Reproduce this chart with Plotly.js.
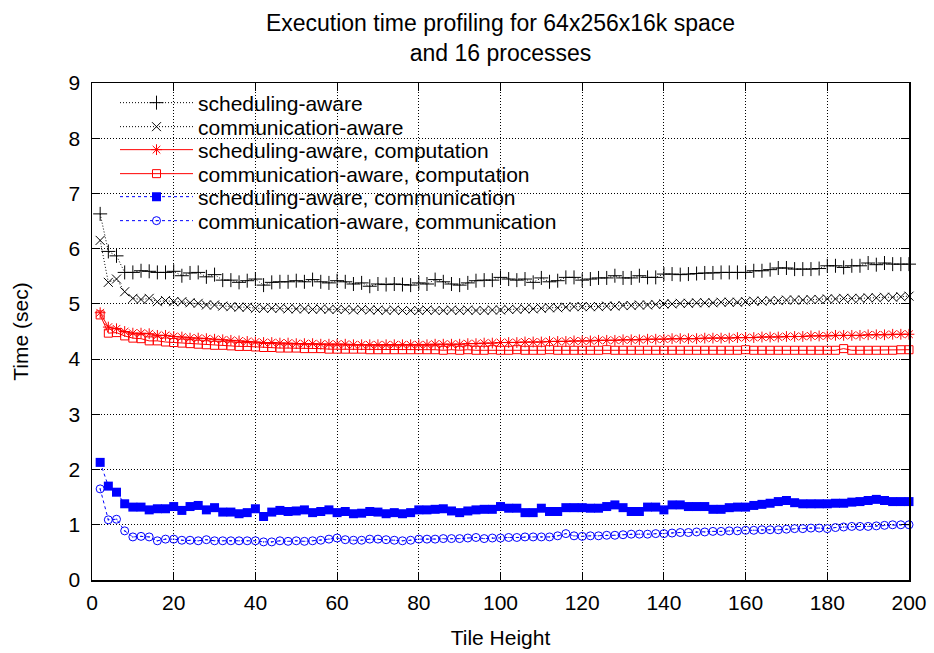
<!DOCTYPE html>
<html><head><meta charset="utf-8">
<script src="https://cdn.plot.ly/plotly-3.0.1.min.js"></script>
<style>body{margin:0;background:#fff}</style>
</head><body><div id="chart" style="width:934px;height:653px"></div>
<script>
const tileHeight = [2,4,6,8,10,12,14,16,18,20,22,24,26,28,30,32,34,36,38,40,42,44,46,48,50,52,54,56,58,60,62,64,66,68,70,72,74,76,78,80,82,84,86,88,90,92,94,96,98,100,102,104,106,108,110,112,114,116,118,120,122,124,126,128,130,132,134,136,138,140,142,144,146,148,150,152,154,156,158,160,162,164,166,168,170,172,174,176,178,180,182,184,186,188,190,192,194,196,198,200];

const schedTotal = [6.63,5.95,5.87,5.57,5.57,5.60,5.59,5.57,5.57,5.59,
5.51,5.56,5.57,5.49,5.53,5.43,5.43,5.39,5.42,5.45,
5.34,5.39,5.40,5.40,5.42,5.40,5.44,5.40,5.38,5.42,
5.40,5.36,5.38,5.32,5.36,5.35,5.36,5.35,5.34,5.38,
5.36,5.44,5.40,5.36,5.34,5.38,5.42,5.43,5.43,5.48,
5.45,5.43,5.45,5.39,5.47,5.40,5.42,5.48,5.48,5.43,
5.45,5.47,5.47,5.51,5.47,5.47,5.51,5.48,5.48,5.54,
5.54,5.53,5.54,5.55,5.56,5.56,5.57,5.57,5.57,5.57,
5.60,5.60,5.62,5.65,5.65,5.63,5.63,5.63,5.64,5.69,
5.69,5.66,5.69,5.69,5.74,5.71,5.74,5.72,5.72,5.72];

const commTotal = [6.15,5.39,5.45,5.22,5.10,5.08,5.10,5.04,5.06,5.04,
5.04,5.02,5.01,4.98,4.98,4.96,4.95,4.94,4.94,4.92,
4.92,4.92,4.92,4.91,4.91,4.91,4.90,4.91,4.90,4.90,
4.90,4.89,4.90,4.89,4.89,4.88,4.89,4.88,4.88,4.88,
4.89,4.88,4.88,4.89,4.88,4.89,4.88,4.88,4.89,4.89,
4.90,4.90,4.91,4.91,4.92,4.93,4.93,4.94,4.95,4.95,
4.95,4.95,4.96,4.96,4.97,4.97,4.98,4.98,4.99,5.00,
5.00,5.01,5.01,5.02,5.02,5.02,5.03,5.03,5.03,5.04,
5.05,5.05,5.06,5.06,5.07,5.07,5.07,5.08,5.08,5.09,
5.09,5.10,5.10,5.10,5.11,5.11,5.12,5.12,5.13,5.14];

const schedComp = [4.84,4.58,4.55,4.50,4.47,4.47,4.46,4.43,4.43,4.41,
4.40,4.38,4.38,4.37,4.36,4.35,4.34,4.33,4.32,4.31,
4.30,4.30,4.29,4.29,4.28,4.28,4.28,4.27,4.27,4.27,
4.27,4.26,4.26,4.26,4.26,4.26,4.26,4.26,4.26,4.26,
4.26,4.27,4.27,4.27,4.27,4.28,4.28,4.29,4.29,4.30,
4.30,4.30,4.31,4.31,4.31,4.32,4.32,4.32,4.33,4.33,
4.33,4.34,4.34,4.34,4.35,4.35,4.35,4.36,4.36,4.36,
4.37,4.37,4.37,4.37,4.38,4.38,4.38,4.38,4.39,4.39,
4.39,4.40,4.40,4.40,4.41,4.41,4.41,4.42,4.42,4.42,
4.43,4.43,4.43,4.43,4.44,4.44,4.44,4.45,4.45,4.45];

const commComp = [4.80,4.47,4.48,4.42,4.38,4.37,4.33,4.33,4.31,4.30,
4.29,4.28,4.27,4.26,4.25,4.25,4.24,4.23,4.23,4.22,
4.21,4.21,4.20,4.20,4.20,4.19,4.19,4.19,4.18,4.18,
4.18,4.18,4.18,4.17,4.17,4.17,4.17,4.17,4.17,4.17,
4.17,4.17,4.16,4.17,4.16,4.17,4.16,4.16,4.17,4.16,
4.16,4.17,4.16,4.16,4.16,4.17,4.16,4.16,4.16,4.16,
4.16,4.16,4.17,4.16,4.16,4.16,4.16,4.16,4.16,4.16,
4.16,4.16,4.16,4.16,4.16,4.16,4.16,4.16,4.16,4.17,
4.16,4.16,4.16,4.16,4.16,4.16,4.16,4.16,4.16,4.16,
4.16,4.19,4.16,4.16,4.16,4.16,4.16,4.16,4.17,4.17];

const schedComm = [2.13,1.70,1.59,1.38,1.32,1.32,1.27,1.29,1.29,1.33,
1.26,1.33,1.35,1.27,1.31,1.23,1.23,1.20,1.22,1.29,
1.15,1.23,1.26,1.24,1.25,1.27,1.22,1.24,1.27,1.22,
1.24,1.20,1.21,1.24,1.23,1.20,1.22,1.20,1.22,1.27,
1.27,1.28,1.29,1.25,1.22,1.25,1.27,1.28,1.28,1.33,
1.30,1.30,1.22,1.22,1.30,1.24,1.24,1.31,1.31,1.31,
1.30,1.30,1.33,1.36,1.31,1.24,1.24,1.32,1.32,1.27,
1.36,1.36,1.33,1.33,1.33,1.28,1.28,1.31,1.32,1.32,
1.35,1.37,1.39,1.42,1.44,1.40,1.38,1.38,1.38,1.38,
1.39,1.39,1.41,1.42,1.44,1.46,1.44,1.42,1.42,1.42];

const commComm = [1.65,1.09,1.10,0.89,0.78,0.79,0.78,0.71,0.74,0.74,
0.72,0.72,0.71,0.73,0.71,0.71,0.71,0.71,0.71,0.71,
0.69,0.69,0.71,0.70,0.71,0.70,0.71,0.72,0.74,0.76,
0.73,0.72,0.72,0.74,0.74,0.73,0.72,0.71,0.72,0.74,
0.74,0.74,0.75,0.75,0.75,0.76,0.77,0.75,0.76,0.76,
0.77,0.77,0.78,0.78,0.78,0.78,0.80,0.84,0.80,0.79,
0.80,0.80,0.81,0.81,0.82,0.83,0.83,0.83,0.84,0.84,
0.85,0.86,0.86,0.87,0.87,0.88,0.88,0.89,0.89,0.90,
0.90,0.91,0.91,0.91,0.92,0.93,0.93,0.94,0.94,0.93,
0.95,0.96,0.97,0.97,0.97,0.98,0.99,1.00,1.00,1.00];

const seriesNames = ['scheduling-aware','communication-aware','scheduling-aware, computation','communication-aware, computation','scheduling-aware, communication','communication-aware, communication'];
const xTickVals = [0,20,40,60,80,100,120,140,160,180,200];
const yTickVals = [0,1,2,3,4,5,6,7,8,9];

const FONT = 'Liberation Sans, Arial, Helvetica, sans-serif';
const W = 934, H = 653, L = 92, R = 25, T = 83, B = 73;
const pw = W - L - R, ph = H - T - B;
const px2x = p => (p - L) / pw;
const px2y = p => (H - B - p) / ph;

const styles = [
  {line:{color:'#000',width:1,dash:'1px,2px'}, marker:{symbol:'cross-thin-open',size:10,color:'#000',line:{color:'#000',width:1}}},
  {line:{color:'#000',width:1,dash:'1px,2px'}, marker:{symbol:'x-thin-open',size:9,color:'#000',line:{color:'#000',width:1}}},
  {line:{color:'#ff0000',width:1}, marker:{symbol:'asterisk-open',size:9,color:'#ff0000',line:{color:'#ff0000',width:1}}},
  {line:{color:'#ff0000',width:1}, marker:{symbol:'square-open',size:8,color:'#ff0000',line:{color:'#ff0000',width:1}}},
  {line:{color:'#0000ff',width:1,dash:'3px,3px'}, marker:{symbol:'square',size:9,color:'#0000ff',line:{width:0}}},
  {line:{color:'#0000ff',width:1,dash:'3px,3px'}, marker:{symbol:'circle-open-dot',size:8,color:'#0000ff',line:{color:'#0000ff',width:1}}}
];
const ys = [schedTotal, commTotal, schedComp, commComp, schedComm, commComm];
const legendIds = ['legend','legend2','legend3','legend4','legend5','legend6'];
const rowCenters = [103,127,150,174,197,221];

const data = ys.map((y,i) => Object.assign({
  type:'scatter', mode:'lines+markers', x: tileHeight, y: y, name: seriesNames[i],
  legend: legendIds[i], cliponaxis: false
}, styles[i]));

const layout = {
  width: W, height: H,
  margin: {l:L, r:R, t:T, b:B},
  paper_bgcolor:'#fff', plot_bgcolor:'#fff',
  font: {family: FONT, size: 21, color:'#000'},
  title: {text:'Execution time profiling for 64x256x16k space<br>and 16 processes',
          font:{family:FONT,size:23,color:'#000'}, x:0.5, xref:'paper', y:0.952, yref:'container', yanchor:'top'},
  xaxis: {range:[0,200], tickvals:xTickVals, ticks:'inside', ticklen:8, tickcolor:'#000',
          mirror:'ticks', showline:true, linecolor:'#000', linewidth:1.5,
          showgrid:true, gridcolor:'#000', gridwidth:1, griddash:'1px,2px', zeroline:false,
          ticklabelstandoff:3,
          tickfont:{family:FONT,size:21}, title:{text:'Tile Height', font:{family:FONT,size:21}, standoff:17}},
  yaxis: {range:[0,9], tickvals:yTickVals, ticks:'inside', ticklen:8, tickcolor:'#000',
          mirror:'ticks', showline:true, linecolor:'#000', linewidth:1.5,
          showgrid:true, gridcolor:'#000', gridwidth:1, griddash:'1px,2px', zeroline:false,
          tickfont:{family:FONT,size:21}, ticklabelstandoff:6, title:{text:'Time (sec)', font:{family:FONT,size:21}, standoff:34}},
  shapes: [{type:'rect', xref:'paper', yref:'paper', x0:px2x(112), x1:px2x(686), y0:px2y(234), y1:px2y(84),
            fillcolor:'#fff', line:{width:0}, layer:'between'}],
  showlegend: true
};
legendIds.forEach((id,i) => {
  layout[id] = {x: px2x(115), xanchor:'left', y: px2y(rowCenters[i]), yanchor:'middle',
    bgcolor:'rgba(0,0,0,0)', borderwidth:0, itemwidth:73,
    font:{family:FONT,size:21,color:'#000'}};
});

Plotly.newPlot('chart', data, layout, {displayModeBar:false, staticPlot:true});
</script>
</body></html>
